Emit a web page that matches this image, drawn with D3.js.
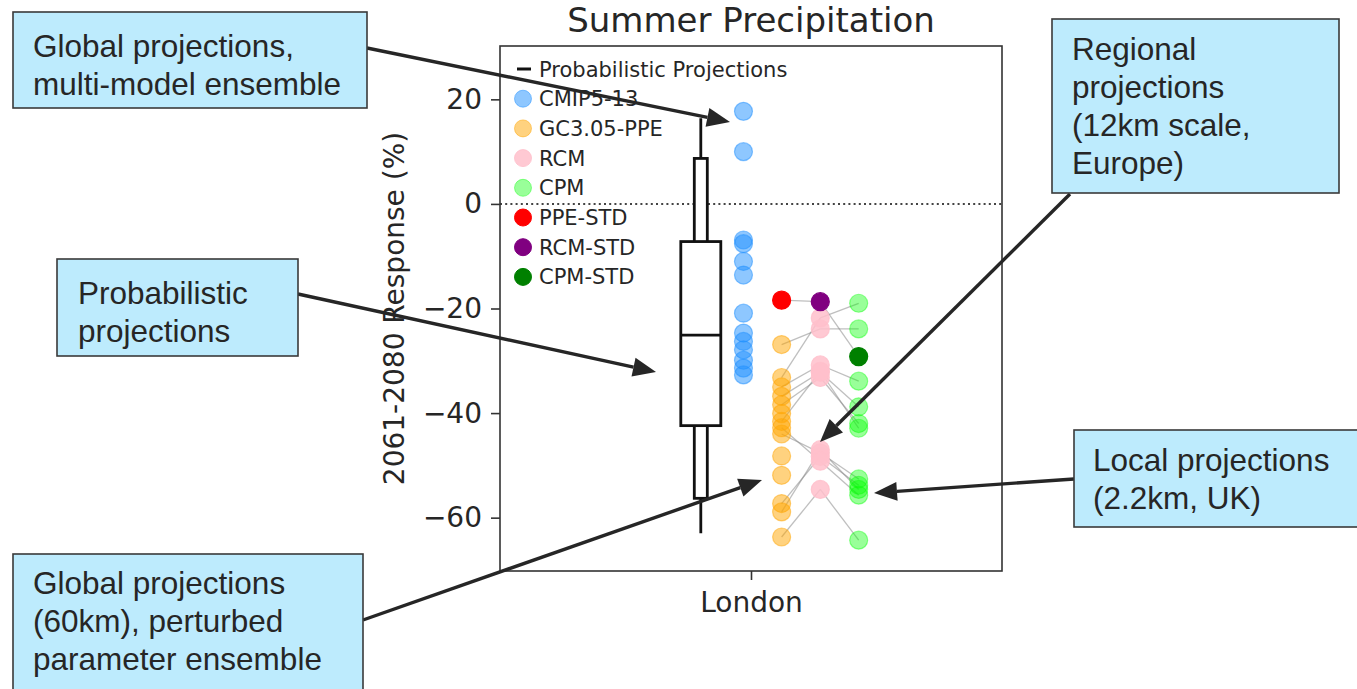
<!DOCTYPE html>
<html>
<head>
<meta charset="utf-8">
<script src="https://cdn.jsdelivr.net/npm/d3@7"></script>
<style>
  html, body { margin: 0; padding: 0; background: #fff; }
</style>
</head>
<body>
<div id="chart"></div>
<script>
// values
const categories = ['London'];
const probPercentiles = [5, 10, 25, 50, 75, 90, 95];
const probValues = [-63.0, -56.3, -42.4, -25.1, -7.2, 8.7, 16.4];
const cmip5Values = [17.7, 10.0, -6.9, -7.6, -11.0, -13.6, -20.9, -24.7, -26.3, -27.9, -29.9, -31.4, -32.7];
// PPE members, index 0 = standard member; the first 12 drive the RCM runs
const ppeValues = [-18.4, -26.9, -33.2, -35.0, -36.8, -38.4, -41.6, -44.0, -57.3, -58.9, -42.8, -63.7, -40.1, -48.2, -51.9];
// RCM run i is driven by ppeValues[i], index 0 = standard
const rcmValues = [-18.7, -23.9, -21.8, -30.8, -32.2, -33.2, -32.0, -47.6, -48.3, -47.0, -49.2, -54.6];
// CPM run i is driven by rcmValues[i], index 0 = standard
const cpmValues = [-29.2, -23.9, -19.0, -33.9, -38.8, -42.0, -42.9, -52.6, -53.8, -54.6, -55.7, -64.3];
const yTicks = [-60, -40, -20, 0, 20];
const legendLabels = ['Probabilistic Projections', 'CMIP5-13', 'GC3.05-PPE', 'RCM', 'CPM', 'PPE-STD', 'RCM-STD', 'CPM-STD'];

const noteTexts = [
  ['Global projections,', 'multi-model ensemble'],
  ['Regional', 'projections', '(12km scale,', 'Europe)'],
  ['Probabilistic', 'projections'],
  ['Global projections', '(60km), perturbed', 'parameter ensemble'],
  ['Local projections', '(2.2km, UK)']
];

// layout
const W = 1357, H = 689;
const plot = { left: 500, right: 1002, top: 46, bottom: 571 };
const colX = { prob: -0.2, cmip: -0.03, ppe: 0.122, rcm: 0.276, cpm: 0.429 };
const ink = '#262626';
const chartFont = '"DejaVu Sans", sans-serif';

const legendStyles = [
  { type: 'line' },
  { fill: 'dodgerblue', op: 0.5 },
  { fill: 'orange', op: 0.5 },
  { fill: 'pink', op: 0.85 },
  { fill: 'lime', op: 0.4 },
  { fill: 'red', op: 1 },
  { fill: 'purple', op: 1 },
  { fill: 'green', op: 1 }
];

const svg = d3.select('#chart').append('svg')
  .attr('width', W)
  .attr('height', H)
  .style('display', 'block');

svg.append('rect').attr('width', W).attr('height', H).attr('fill', '#fff');

const x = d3.scaleLinear().domain([-1, 1]).range([plot.left, plot.right]);
const y = d3.scaleLinear().domain([-70.2, 30.2]).range([plot.bottom, plot.top]);

// title
svg.append('text')
  .attr('x', (plot.left + plot.right) / 2)
  .attr('y', 32)
  .attr('text-anchor', 'middle')
  .attr('font-family', chartFont)
  .attr('font-size', 34)
  .attr('fill', ink)
  .text('Summer Precipitation');

// axes
const yAxis = svg.append('g')
  .attr('transform', `translate(${plot.left},0)`)
  .call(d3.axisLeft(y).tickValues(yTicks).tickSize(9).tickPadding(9));
const xAxis = svg.append('g')
  .attr('transform', `translate(0,${plot.bottom})`)
  .call(d3.axisBottom(x).tickValues([0]).tickFormat((d, i) => categories[i]).tickSize(9).tickPadding(12));
[yAxis, xAxis].forEach(g => {
  g.select('.domain').remove();
  g.selectAll('line').attr('stroke', '#333').attr('stroke-width', 1.6);
  g.selectAll('text').attr('font-family', chartFont).attr('font-size', 28).attr('fill', ink);
});

svg.append('text')
  .attr('transform', `translate(404,${(plot.top + plot.bottom) / 2}) rotate(-90)`)
  .attr('text-anchor', 'middle')
  .attr('font-family', chartFont)
  .attr('font-size', 28)
  .attr('fill', ink)
  .text('2061-2080 Response (%)');

// zero line
svg.append('line')
  .attr('x1', plot.left).attr('x2', plot.right)
  .attr('y1', y(0)).attr('y2', y(0))
  .attr('stroke', '#444')
  .attr('stroke-width', 2)
  .attr('stroke-dasharray', '2,3.2');

// probabilistic box plot
const p = {};
probPercentiles.forEach((k, i) => { p[k] = probValues[i]; });
const bx = x(colX.prob);
const box = svg.append('g').attr('stroke', '#111').attr('stroke-width', 2.8).attr('fill', '#fff');
box.append('line').attr('x1', bx).attr('x2', bx).attr('y1', y(p[95])).attr('y2', y(p[5]));
box.append('rect')
  .attr('x', bx - 6.5).attr('width', 13)
  .attr('y', y(p[90])).attr('height', y(p[10]) - y(p[90]));
box.append('rect')
  .attr('x', bx - 20).attr('width', 40)
  .attr('y', y(p[75])).attr('height', y(p[25]) - y(p[75]));
box.append('line')
  .attr('x1', bx - 20).attr('x2', bx + 20)
  .attr('y1', y(p[50])).attr('y2', y(p[50]));

// links PPE -> RCM -> CPM
const links = [];
rcmValues.forEach((v, i) => {
  links.push([colX.ppe, ppeValues[i], colX.rcm, v]);
  links.push([colX.rcm, v, colX.cpm, cpmValues[i]]);
});
svg.append('g')
  .selectAll('line')
  .data(links)
  .join('line')
  .attr('x1', d => x(d[0])).attr('y1', d => y(d[1]))
  .attr('x2', d => x(d[2])).attr('y2', d => y(d[3]))
  .attr('stroke', '#8a8a8a')
  .attr('stroke-opacity', 0.55)
  .attr('stroke-width', 1.3);

function dots(values, cx, color, op) {
  svg.append('g')
    .selectAll('circle')
    .data(values)
    .join('circle')
    .attr('cx', x(cx))
    .attr('cy', d => y(d))
    .attr('r', 9)
    .attr('fill', color)
    .attr('fill-opacity', op)
    .attr('stroke', color)
    .attr('stroke-opacity', op)
    .attr('stroke-width', 1.2);
}
dots(cmip5Values, colX.cmip, 'dodgerblue', 0.5);
dots(ppeValues.slice(1), colX.ppe, 'orange', 0.5);
dots(rcmValues.slice(1), colX.rcm, 'pink', 0.85);
dots(cpmValues.slice(1), colX.cpm, 'lime', 0.4);
dots([ppeValues[0]], colX.ppe, 'red', 1);
dots([rcmValues[0]], colX.rcm, 'purple', 1);
dots([cpmValues[0]], colX.cpm, 'green', 1);

// frame
svg.append('rect')
  .attr('x', plot.left).attr('y', plot.top)
  .attr('width', plot.right - plot.left).attr('height', plot.bottom - plot.top)
  .attr('fill', 'none')
  .attr('stroke', '#333')
  .attr('stroke-width', 1.6);

// legend
const legend = svg.append('g').attr('font-family', chartFont).attr('font-size', 21).attr('fill', ink);
legendLabels.forEach((label, i) => {
  const ly = 69 + i * 29.7;
  const s = legendStyles[i];
  if (s.type === 'line') {
    legend.append('line')
      .attr('x1', 517).attr('x2', 531).attr('y1', ly).attr('y2', ly)
      .attr('stroke', '#111').attr('stroke-width', 3);
  } else {
    legend.append('circle')
      .attr('cx', 523).attr('cy', ly).attr('r', 8.5)
      .attr('fill', s.fill).attr('fill-opacity', s.op)
      .attr('stroke', s.fill).attr('stroke-opacity', s.op).attr('stroke-width', 1);
  }
  legend.append('text').attr('x', 539).attr('y', ly).attr('dy', '0.36em').text(label);
});

// annotation arrows
const arrows = [
  [367, 48, 730, 122],
  [298, 294, 656, 372],
  [1070, 194, 820, 442],
  [363, 620, 762, 480],
  [1074, 479, 874, 493]
];
const ag = svg.append('g');
arrows.forEach(([x1, y1, x2, y2]) => {
  const a = Math.atan2(y2 - y1, x2 - x1);
  const len = 23, hw = 9.5;
  const bxp = x2 - len * Math.cos(a), byp = y2 - len * Math.sin(a);
  ag.append('line')
    .attr('x1', x1).attr('y1', y1).attr('x2', bxp).attr('y2', byp)
    .attr('stroke', ink).attr('stroke-width', 3.4);
  const pts = [
    [x2, y2],
    [bxp + hw * Math.sin(a), byp - hw * Math.cos(a)],
    [bxp - hw * Math.sin(a), byp + hw * Math.cos(a)]
  ];
  ag.append('polygon').attr('points', pts.map(q => q.join(',')).join(' ')).attr('fill', ink);
});

// annotation boxes
const noteBoxes = [
  { x: 13, y: 12, w: 354, h: 96, tx: 33, ty: 57 },
  { x: 1052, y: 19, w: 287, h: 174, tx: 1072, ty: 60 },
  { x: 57, y: 259, w: 241, h: 97, tx: 78, ty: 304 },
  { x: 13, y: 554, w: 350, h: 150, tx: 33, ty: 594 },
  { x: 1074, y: 430, w: 300, h: 97, tx: 1093, ty: 471 }
];
const ng = svg.append('g');
noteBoxes.forEach((b, i) => {
  ng.append('rect')
    .attr('x', b.x).attr('y', b.y).attr('width', b.w).attr('height', b.h)
    .attr('fill', '#bdebfd').attr('stroke', '#3a3a3a').attr('stroke-width', 1.6);
  const t = ng.append('text')
    .attr('font-family', '"Liberation Sans", Arial, sans-serif')
    .attr('font-size', 31.5)
    .attr('fill', ink);
  noteTexts[i].forEach((line, j) => {
    t.append('tspan').attr('x', b.tx).attr('y', b.ty + j * 38).text(line);
  });
});
</script>
</body>
</html>
